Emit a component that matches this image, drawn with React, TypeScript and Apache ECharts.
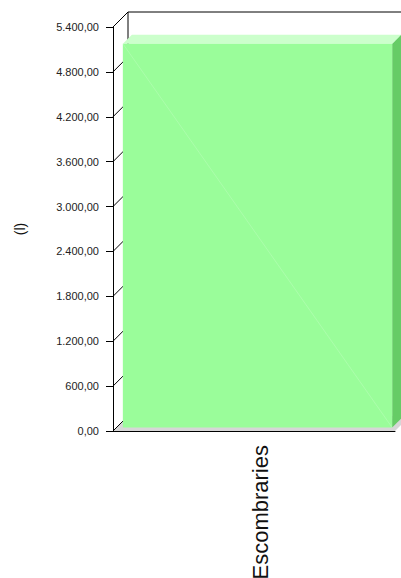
import React, { useEffect, useRef } from "react";
import * as echarts from "echarts";

const categories = ["Escombraries"];
const values = [5130];
const yTicks = [0, 600, 1200, 1800, 2400, 3000, 3600, 4200, 4800, 5400];
const yName = "(l)";

function fmt(v: number): string {
  const fixed = v.toFixed(2);
  const [intPart, dec] = fixed.split(".");
  const withDots = intPart.replace(/\B(?=(\d{3})+(?!\d))/g, ".");
  return withDots + "," + dec;
}

export default function App() {
  const ref = useRef<HTMLDivElement>(null);
  useEffect(() => {
    if (!ref.current) return;
    const chart = echarts.init(ref.current, null, { renderer: "svg" });
    const D = 15;
    chart.setOption({
      animation: false,
      backgroundColor: "#ffffff",
      grid: { left: 113, top: 27, right: 6, bottom: 147, containLabel: false },
      xAxis: {
        type: "category",
        data: categories,
        z: 5,
        axisLine: { lineStyle: { color: "#000", width: 1 } },
        axisTick: { length: 6, lineStyle: { color: "#000" } },
        axisLabel: { show: false },
        splitLine: { show: false },
      },
      yAxis: {
        type: "value",
        min: 0,
        max: 5400,
        interval: 600,
        z: 5,
        name: yName,
        nameLocation: "middle",
        nameRotate: 90,
        nameGap: 86,
        nameTextStyle: { fontSize: 14, color: "#111", fontFamily: "Liberation Sans, Arial, sans-serif" },
        axisLine: { show: true, lineStyle: { color: "#000", width: 1 } },
        axisTick: { show: true, length: 7, lineStyle: { color: "#000" } },
        axisLabel: {
          margin: 14,
          fontSize: 11,
          color: "#222",
          fontFamily: "Liberation Sans, Arial, sans-serif",
          formatter: (v: number) => fmt(v),
        },
        splitLine: { show: false },
      },
      series: [
        {
          type: "custom",
          z: 1,
          silent: true,
          data: yTicks.map((t) => [0, t]),
          renderItem: (params: any, api: any) => {
            const cs = params.coordSys;
            const L = cs.x, T = cs.y, R = cs.x + cs.width, B = cs.y + cs.height;
            const y = api.coord([0, api.value(1)])[1];
            const children: any[] = [];
            if (params.dataIndex === 0) {
              children.push({
                type: "polygon",
                shape: { points: [[L, B], [R, B], [R + D, B - D], [L + D, B - D]] },
                style: { fill: "#d6d6d6", stroke: null },
              });
              children.push({
                type: "line",
                shape: { x1: L + D, y1: T - D, x2: L + D, y2: B - D },
                style: { stroke: "#000", lineWidth: 1 },
              });
              children.push({
                type: "line",
                shape: { x1: L + D, y1: T - D, x2: R + D, y2: T - D },
                style: { stroke: "#000", lineWidth: 1 },
              });
            }
            children.push({
              type: "line",
              shape: { x1: L, y1: y, x2: L + D, y2: y - D },
              style: { stroke: "#000", lineWidth: 1 },
            });
            return { type: "group", children };
          },
        },
        {
          type: "custom",
          z: 2,
          data: values.map((v, i) => [i, v]),
          renderItem: (params: any, api: any) => {
            const c = api.value(0);
            const v = api.value(1);
            const base = api.coord([c, 0]);
            const top = api.coord([c, v]);
            const bw = api.size([1, 0])[0];
            const w = bw * 0.955;
            const s = 3.5;
            const d = 9;
            const x0 = base[0] - w / 2 + s;
            const x1 = base[0] + w / 2 + s;
            const yb = base[1] - s;
            const yt = top[1] - s;
            return {
              type: "group",
              children: [
                {
                  type: "polygon",
                  shape: { points: [[x1, yt], [x1 + d, yt - d], [x1 + d, yb - d], [x1, yb]] },
                  style: { fill: "#66cc66" },
                },
                {
                  type: "polygon",
                  shape: { points: [[x0, yt], [x1, yt], [x1 + d, yt - d], [x0 + d, yt - d]] },
                  style: { fill: "#ccffcc" },
                },
                {
                  type: "rect",
                  shape: { x: x0, y: yt, width: x1 - x0, height: yb - yt },
                  style: { fill: "#9afd9a" },
                },
                {
                  type: "line",
                  shape: { x1: x0, y1: yt, x2: x1, y2: yb },
                  style: { stroke: "rgba(255,255,255,0.22)", lineWidth: 0.8 },
                },
                {
                  type: "text",
                  x: base[0] + 6,
                  y: base[1] + 14,
                  rotation: Math.PI / 2,
                  style: {
                    text: categories[c],
                    align: "right",
                    verticalAlign: "middle",
                    fontSize: 22,
                    fill: "#111",
                    fontFamily: "Liberation Sans, Arial, sans-serif",
                  },
                },
              ],
            };
          },
        },
      ],
    });
    return () => chart.dispose();
  }, []);
  return (
    <div
      ref={ref}
      style={{ position: "absolute", left: 0, top: 0, width: 401, height: 578 }}
    />
  );
}
